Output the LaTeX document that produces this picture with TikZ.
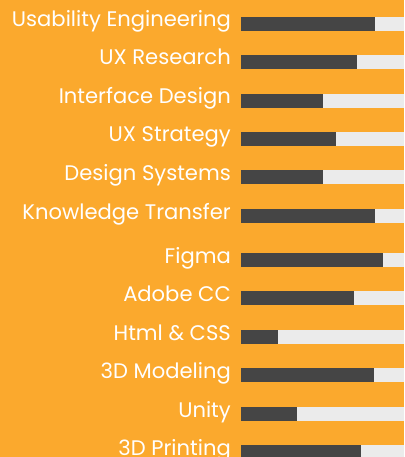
\documentclass[tikz,border=0pt]{standalone}
\usepackage{fontspec}
\setmainfont{Poppins}
\definecolor{bg}{HTML}{FBA92D}
\definecolor{track}{HTML}{EBEBEB}
\definecolor{barfill}{HTML}{454545}
\tikzset{
  skill/.style={anchor=base east, inner sep=0pt, text=white, font=\fontsize{21.1}{21.1}\selectfont},
}
\newcommand{\skillrow}[4]{% name, label, top, end
  \node[skill] (#1) at (231,#3+10) {#2};
  \fill[track] (241,#3) rectangle (404,#3+14);
  \fill[barfill] (241,#3) rectangle (#4,#3+14);
}
\begin{document}
\begin{tikzpicture}[x=1pt,y=-1pt]
\useasboundingbox (0,0) rectangle (404,457);
\clip (0,0) rectangle (404,457);
\fill[bg] (0,0) rectangle (404,457);
\skillrow{s1}{Usability Engineering}{17}{375}
\skillrow{s2}{UX Research}{55}{357}
\skillrow{s3}{Interface Design}{94}{323}
\skillrow{s4}{UX Strategy}{132}{336}
\skillrow{s5}{Design Systems}{170}{323}
\skillrow{s6}{Knowledge Transfer}{209}{375}
\skillrow{s7}{Figma}{253}{383}
\skillrow{s8}{Adobe CC}{291}{354}
\skillrow{s9}{Html \& CSS}{330}{278}
\skillrow{s10}{3D Modeling}{368}{374}
\skillrow{s11}{Unity}{407}{297}
\skillrow{s12}{3D Printing}{445}{361}
\end{tikzpicture}
\end{document}
